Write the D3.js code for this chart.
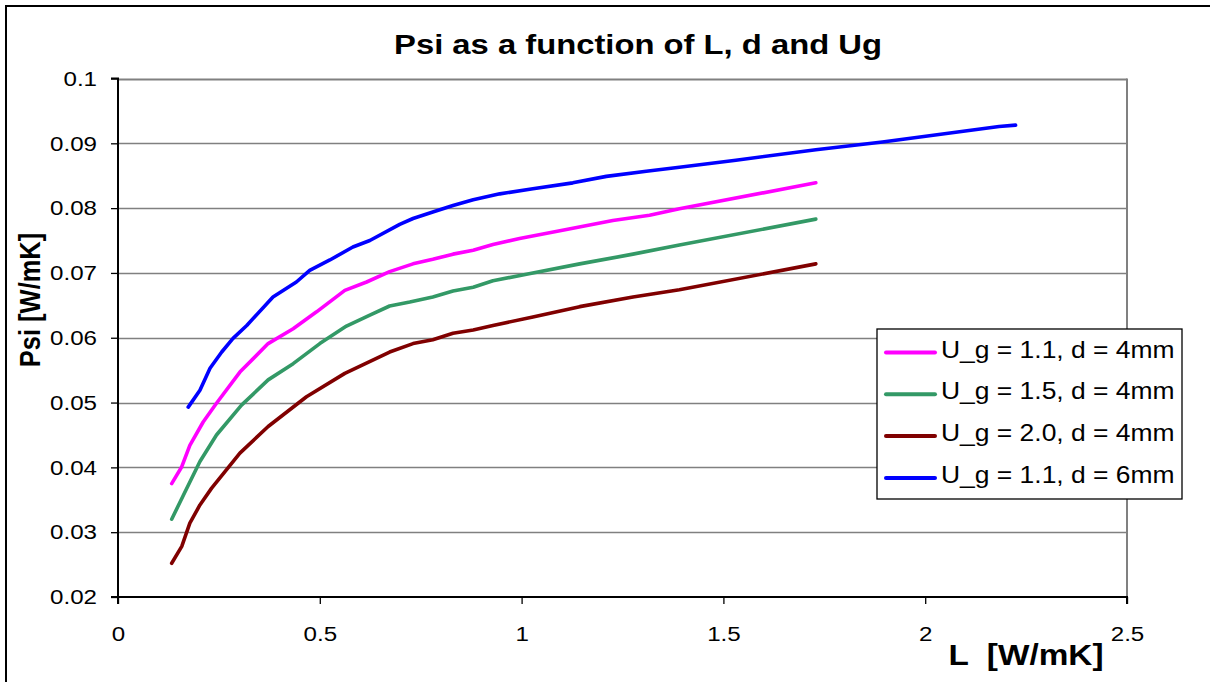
<!DOCTYPE html>
<html>
<head>
<meta charset="utf-8">
<script src="https://cdn.jsdelivr.net/npm/d3@7"></script>
<style>
  body { margin: 0; background: #fff; }
  svg text { font-family: Arial, "Liberation Sans", sans-serif; fill: #000; }
</style>
</head>
<body>
<svg id="chart" width="1210" height="682"></svg>
<script>
// data
const seriesNames = ["U_g = 1.1, d = 4mm", "U_g = 1.5, d = 4mm", "U_g = 2.0, d = 4mm", "U_g = 1.1, d = 6mm"];
const seriesColors = ["#ff00ff", "#339966", "#800000", "#0000ff"];

const lMagenta = [0.133, 0.158, 0.178, 0.211, 0.244, 0.302, 0.372, 0.434, 0.492, 0.562, 0.616, 0.673, 0.731, 0.780, 0.830, 0.880, 0.929, 0.995, 1.111, 1.226, 1.317, 1.391, 1.729];
const psiMagenta = [0.0375, 0.0401, 0.0434, 0.0470, 0.0499, 0.0547, 0.0591, 0.0614, 0.0640, 0.0673, 0.0686, 0.0702, 0.0714, 0.0721, 0.0729, 0.0735, 0.0744, 0.0753, 0.0767, 0.0781, 0.0789, 0.0799, 0.0839];

const lGreen = [0.133, 0.162, 0.203, 0.244, 0.306, 0.372, 0.434, 0.500, 0.566, 0.624, 0.673, 0.723, 0.780, 0.830, 0.880, 0.929, 1.012, 1.144, 1.276, 1.391, 1.729];
const psiGreen = [0.0320, 0.0357, 0.0409, 0.0450, 0.0496, 0.0535, 0.0560, 0.0591, 0.0618, 0.0635, 0.0649, 0.0655, 0.0663, 0.0672, 0.0678, 0.0688, 0.0698, 0.0714, 0.0729, 0.0743, 0.0783];

const lRed = [0.133, 0.158, 0.178, 0.203, 0.232, 0.302, 0.372, 0.467, 0.562, 0.673, 0.731, 0.780, 0.830, 0.880, 0.929, 1.028, 1.144, 1.276, 1.391, 1.729];
const psiRed = [0.0252, 0.0278, 0.0314, 0.0342, 0.0368, 0.0422, 0.0463, 0.0509, 0.0545, 0.0578, 0.0591, 0.0597, 0.0607, 0.0612, 0.0619, 0.0632, 0.0648, 0.0663, 0.0674, 0.0714];

const lBlue = [0.174, 0.203, 0.228, 0.257, 0.285, 0.319, 0.384, 0.442, 0.475, 0.525, 0.582, 0.624, 0.698, 0.731, 0.780, 0.830, 0.880, 0.946, 1.028, 1.127, 1.210, 1.309, 1.391, 1.531, 1.729, 1.894, 2.183, 2.224];
const psiBlue = [0.0493, 0.0519, 0.0553, 0.0578, 0.0599, 0.0619, 0.0663, 0.0686, 0.0704, 0.0720, 0.0740, 0.0750, 0.0775, 0.0784, 0.0794, 0.0804, 0.0813, 0.0822, 0.0830, 0.0839, 0.0849, 0.0857, 0.0863, 0.0874, 0.0890, 0.0902, 0.0926, 0.0928];

const xTicks = [0, 0.5, 1, 1.5, 2, 2.5];
const yTicks = [0.02, 0.03, 0.04, 0.05, 0.06, 0.07, 0.08, 0.09, 0.1];

const series = [
  {name: seriesNames[0], color: seriesColors[0], l: lMagenta, psi: psiMagenta},
  {name: seriesNames[1], color: seriesColors[1], l: lGreen, psi: psiGreen},
  {name: seriesNames[2], color: seriesColors[2], l: lRed, psi: psiRed},
  {name: seriesNames[3], color: seriesColors[3], l: lBlue, psi: psiBlue}
];

// the original picture is stretched sideways, text too
const sx = 1.15;

const svg = d3.select("#chart");
const plot = {left: 118, top: 78.5, right: 1127, bottom: 597};

const x = d3.scaleLinear().domain([0, 2.5]).range([plot.left, plot.right]);
const y = d3.scaleLinear().domain([0.02, 0.1]).range([plot.bottom, plot.top]);

// outer chart border (right and bottom edges fall off the picture)
svg.append("rect")
    .attr("x", 6).attr("y", 6)
    .attr("width", 1300).attr("height", 800)
    .attr("fill", "none").attr("stroke", "#000").attr("stroke-width", 2);

// gridlines
svg.append("g")
  .selectAll("line").data(yTicks.slice(1)).enter().append("line")
    .attr("x1", plot.left).attr("x2", plot.right)
    .attr("y1", d => Math.round(y(d)) + 0.5).attr("y2", d => Math.round(y(d)) + 0.5)
    .attr("stroke", "#808080").attr("stroke-width", d => d === 0.1 ? 2 : 1.3);

// right edge of plot area
svg.append("line")
    .attr("x1", plot.right).attr("x2", plot.right)
    .attr("y1", plot.top).attr("y2", plot.bottom)
    .attr("stroke", "#808080").attr("stroke-width", 2);

// axes
const yAxis = svg.append("g")
    .attr("transform", "translate(" + plot.left + ",0)")
    .call(d3.axisLeft(y).tickValues(yTicks).tickSize(7).tickFormat(d3.format("")));
const xAxis = svg.append("g")
    .attr("transform", "translate(0," + plot.bottom + ")")
    .call(d3.axisBottom(x).tickValues(xTicks).tickSize(7).tickPadding(22).tickFormat(d3.format("")));

[yAxis, xAxis].forEach(function(a) {
  a.select(".domain").attr("stroke", "#000").attr("stroke-width", 2);
  a.selectAll(".tick line").attr("stroke", "#000").attr("stroke-width", 1.3);
  a.selectAll(".tick text")
      .attr("font-size", 21)
      .attr("font-family", "Arial, 'Liberation Sans', sans-serif")
      .attr("transform", "scale(" + sx + ",1)");
});
yAxis.selectAll(".tick text").attr("x", -21 / sx);
yAxis.select(".domain").attr("d", "M-7," + plot.top + "H0V" + plot.bottom + "H-7");
xAxis.select(".domain").attr("d", "M" + plot.left + ",7V0H" + plot.right + "V7");

// series lines
const line = d3.line()
    .x(d => x(d[0]))
    .y(d => y(d[1]));

svg.append("g")
  .selectAll("path").data(series).enter().append("path")
    .attr("d", s => line(d3.zip(s.l, s.psi)))
    .attr("fill", "none")
    .attr("stroke", s => s.color)
    .attr("stroke-width", 3.6)
    .attr("stroke-linejoin", "round")
    .attr("stroke-linecap", "round");

// titles
svg.append("text")
    .attr("transform", "translate(638,54) scale(" + sx + ",1)")
    .attr("text-anchor", "middle")
    .attr("font-size", 28.5).attr("font-weight", "bold")
    .text("Psi as a function of L, d and Ug");

svg.append("text")
    .attr("transform", "translate(40,300) rotate(-90) scale(1," + sx + ")")
    .attr("text-anchor", "middle")
    .attr("font-size", 25.5).attr("font-weight", "bold")
    .text("Psi [W/mK]");

svg.append("text")
    .attr("transform", "translate(1026,665) scale(" + sx + ",1)")
    .attr("text-anchor", "middle")
    .attr("font-size", 29).attr("font-weight", "bold")
    .attr("xml:space", "preserve")
    .text("L  [W/mK]");

// legend
const legend = svg.append("g");
legend.append("rect")
    .attr("x", 877).attr("y", 329)
    .attr("width", 305).attr("height", 170)
    .attr("fill", "#fff").attr("stroke", "#000").attr("stroke-width", 1.3);

const item = legend.selectAll("g.item").data(series).enter().append("g")
    .attr("class", "item")
    .attr("transform", (d, i) => "translate(0," + (352.5 + i * 41.8) + ")");
item.append("line")
    .attr("x1", 886).attr("x2", 935)
    .attr("stroke", d => d.color).attr("stroke-width", 4)
    .attr("stroke-linecap", "round");
item.append("text")
    .attr("transform", "translate(941,5) scale(" + sx + ",1)")
    .attr("font-size", 23)
    .text(d => d.name);
</script>
</body>
</html>
